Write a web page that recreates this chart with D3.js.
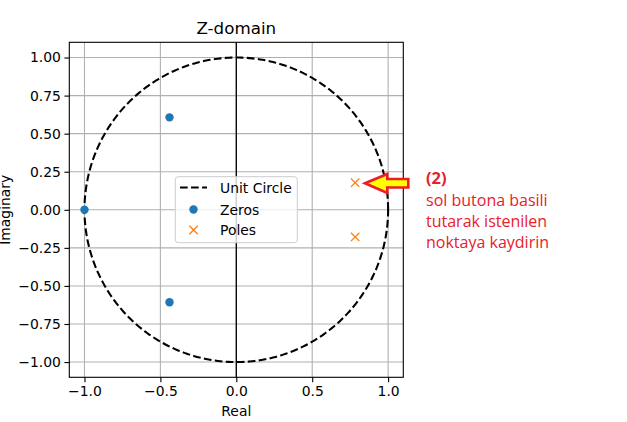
<!DOCTYPE html>
<html><head><meta charset="utf-8">
<script src="https://cdn.jsdelivr.net/npm/d3@7"></script>
<style>body{margin:0;background:#fff}svg{display:block}</style>
</head><body>
<script>
const zerosRe = [-0.44, -0.44, -1.0];
const zerosIm = [0.607, -0.607, 0.0];
const polesRe = [0.783, 0.783];
const polesIm = [0.178, -0.178];
const xTicks = [-1.0, -0.5, 0.0, 0.5, 1.0];
const yTicks = [-1.0, -0.75, -0.5, -0.25, 0.0, 0.25, 0.5, 0.75, 1.0];
const legendLabels = ["Unit Circle", "Zeros", "Poles"];
const noteLines = ["sol butona basili", "tutarak istenilen", "noktaya kaydirin"];

const W = 627, H = 422;
const svg = d3.select("body").append("svg").attr("width", W).attr("height", H);
const L = 69.3, R = 403.3, T = 42.3, B = 377.3;
const x = d3.scaleLinear().domain([-1.1, 1.1]).range([L, R]);
const y = d3.scaleLinear().domain([-1.1, 1.1]).range([B, T]);
const font = "DejaVu Sans";
const dash = "7.7,3.33";

// grid
const g = svg.append("g");
g.selectAll(".gx").data(xTicks).join("line")
  .attr("x1", d => x(d)).attr("x2", d => x(d)).attr("y1", T).attr("y2", B)
  .attr("stroke", "#b0b0b0").attr("stroke-width", 1.1);
g.selectAll(".gy").data(yTicks).join("line")
  .attr("y1", d => y(d)).attr("y2", d => y(d)).attr("x1", L).attr("x2", R)
  .attr("stroke", "#b0b0b0").attr("stroke-width", 1.1);

// axvline at 0
svg.append("line").attr("x1", x(0)).attr("x2", x(0)).attr("y1", T).attr("y2", B)
  .attr("stroke", "#000").attr("stroke-width", 1.3);

// unit circle
const th = d3.range(0, 361).map(d => d * Math.PI / 180);
svg.append("path")
  .attr("d", d3.line().x(t => x(Math.cos(t))).y(t => y(Math.sin(t)))(th))
  .attr("fill", "none").attr("stroke", "#000").attr("stroke-width", 2.08)
  .attr("stroke-dasharray", dash);

// zeros
svg.selectAll(".z").data(zerosRe).join("circle")
  .attr("cx", d => x(d)).attr("cy", (d, i) => y(zerosIm[i])).attr("r", 4.2)
  .attr("fill", "#1f77b4");
// poles
const xm = (cx, cy, s) => `M${cx - s},${cy - s}L${cx + s},${cy + s}M${cx - s},${cy + s}L${cx + s},${cy - s}`;
svg.selectAll(".p").data(polesRe).join("path")
  .attr("d", (d, i) => xm(x(d), y(polesIm[i]), 4.2))
  .attr("stroke", "#ff7f0e").attr("stroke-width", 1.3).attr("fill", "none");

// axes
const xa = svg.append("g").attr("transform", `translate(0,${B})`)
  .call(d3.axisBottom(x).tickValues(xTicks).tickFormat(d3.format(".1f")).tickSize(4.9).tickPadding(3.5));
const ya = svg.append("g").attr("transform", `translate(${L},0)`)
  .call(d3.axisLeft(y).tickValues(yTicks).tickFormat(d3.format(".2f")).tickSize(4.9).tickPadding(3.5));
[xa, ya].forEach(a => {
  a.select(".domain").remove();
  a.selectAll("text").attr("font-family", font).attr("font-size", 13.9).attr("fill", "#000")
    .text(function(){ return this.textContent.replace("-", "\u2212"); });
  a.selectAll("line").attr("stroke", "#000").attr("stroke-width", 1.1);
});
svg.append("rect").attr("x", L).attr("y", T).attr("width", R - L).attr("height", B - T)
  .attr("fill", "none").attr("stroke", "#000").attr("stroke-width", 1.1);

// labels
svg.append("text").attr("x", (L + R) / 2).attr("y", 34).attr("text-anchor", "middle")
  .attr("font-family", font).attr("font-size", 16.7).text("Z-domain");
svg.append("text").attr("x", (L + R) / 2).attr("y", 416).attr("text-anchor", "middle")
  .attr("font-family", font).attr("font-size", 13.9).text("Real");
svg.append("text").attr("transform", `translate(9.5,${(T + B) / 2}) rotate(-90)`).attr("text-anchor", "middle")
  .attr("font-family", font).attr("font-size", 13.9).text("Imaginary");

// legend
const lg = svg.append("g");
lg.append("rect").attr("x", 175.3).attr("y", 176.7).attr("width", 122).attr("height", 66)
  .attr("rx", 3).attr("fill", "#fff").attr("fill-opacity", 0.8).attr("stroke", "#cccccc").attr("stroke-width", 1);
const ly = [187.5, 209.5, 230];
lg.append("line").attr("x1", 180).attr("x2", 207).attr("y1", ly[0]).attr("y2", ly[0])
  .attr("stroke", "#000").attr("stroke-width", 2.08).attr("stroke-dasharray", dash);
lg.append("circle").attr("cx", 193.5).attr("cy", ly[1]).attr("r", 4.2).attr("fill", "#1f77b4");
lg.append("path").attr("d", xm(193.5, ly[2], 4.2)).attr("stroke", "#ff7f0e").attr("stroke-width", 1.3).attr("fill", "none");
lg.selectAll("text").data(legendLabels).join("text")
  .attr("x", 220).attr("y", (d, i) => ly[i] + 5)
  .attr("font-family", font).attr("font-size", 13.9).text(d => d);

// annotation arrow
const ax = [365, 387.3, 387.3, 408.3, 408.3, 387.3, 387.3];
const ay = [183.3, 174, 179, 179, 187.5, 187.5, 193];
svg.append("path").attr("d", "M" + ax.map((v, i) => v + "," + ay[i]).join("L") + "Z")
  .attr("fill", "#ffff00").attr("stroke", "#ee1c25").attr("stroke-width", 2.6).attr("stroke-linejoin", "miter");

const red = "#e8202a";
svg.append("text").attr("x", 426).attr("y", 184).attr("font-family", "Open Sans")
  .attr("font-weight", "bold").attr("font-size", 16.5).attr("fill", red).text("(2)");
svg.selectAll(".nl").data(noteLines).join("text")
  .attr("x", 426).attr("y", (d, i) => 206 + i * 21)
  .attr("font-family", "Open Sans").attr("font-size", 16).attr("fill", red).text(d => d);
</script>
</body></html>
